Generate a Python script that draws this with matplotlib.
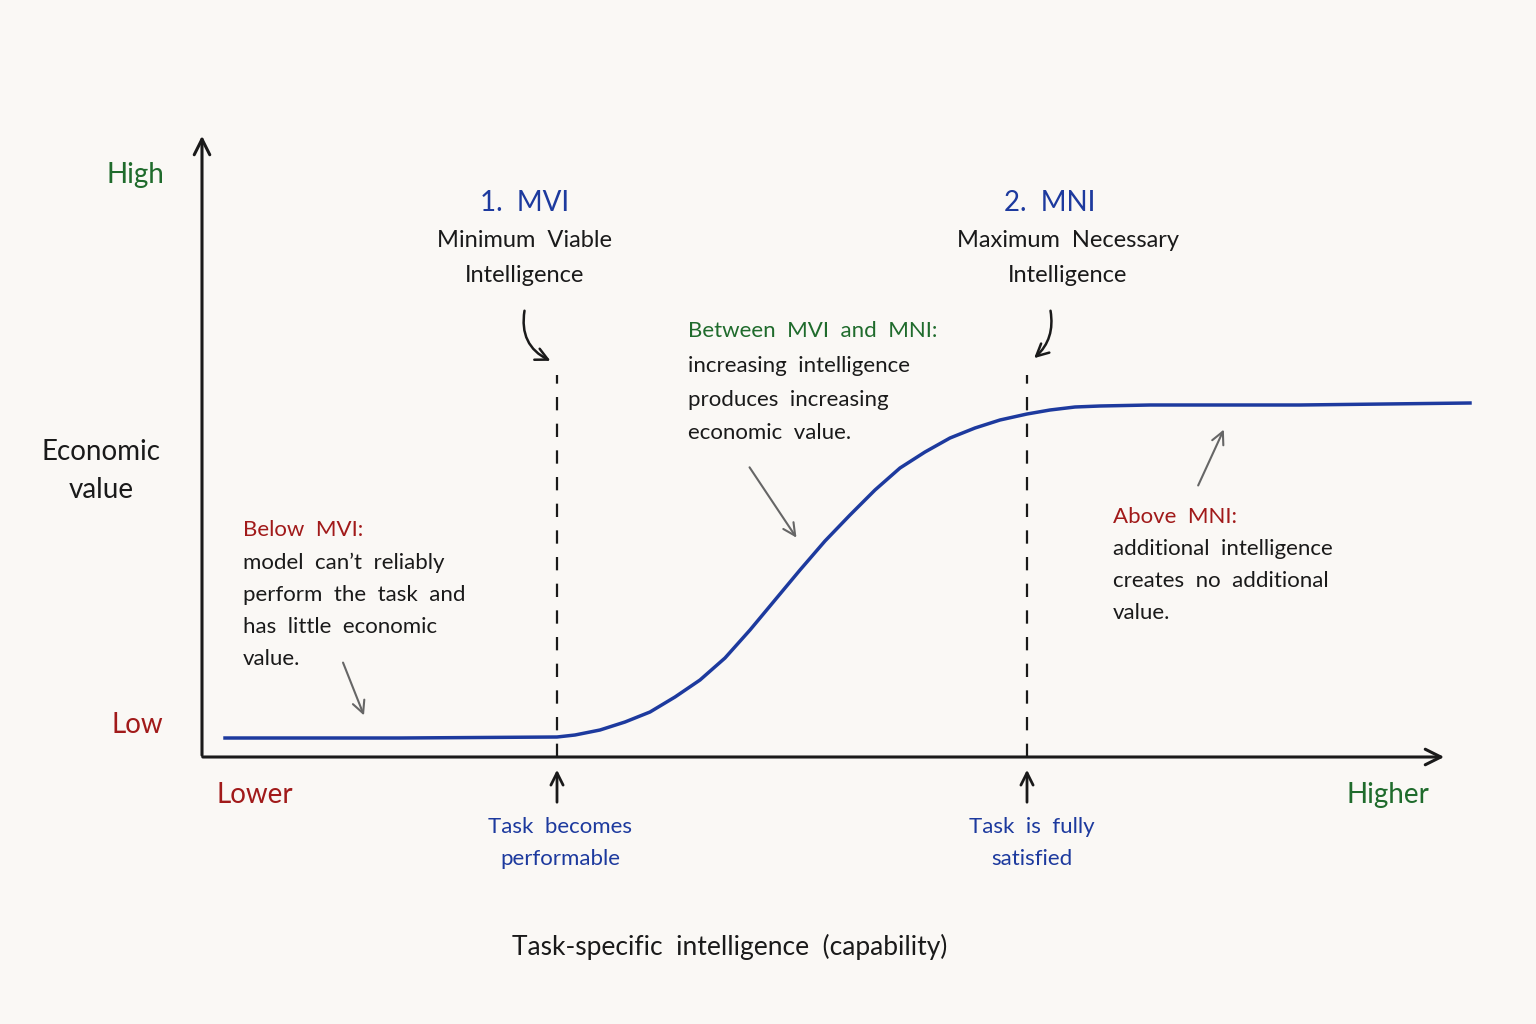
import matplotlib
matplotlib.use("Agg")
import matplotlib.pyplot as plt
import numpy as np

# capability (x) and economic value (y), in chart units
capability = [225, 400, 557, 575, 600, 625, 650, 675, 700, 725, 750, 775, 800, 825, 850, 875, 900, 925, 950, 975, 1000, 1027, 1050, 1075, 1100, 1150, 1200, 1300, 1470]
value = [286, 286, 287, 289, 294, 302, 312, 327, 344, 366, 394, 424, 454, 483, 509, 534, 556, 572, 586, 596, 604, 610, 614, 617, 618, 619, 619, 619, 621]
mvi_x = 557
mni_x = 1027

BLUE = "#1d3a9e"; GREEN = "#1f6b2c"; RED = "#a11a1a"; INK = "#1a1a1a"; BG = "#faf8f5"
plt.rcParams['font.family'] = ['Lato', 'DejaVu Sans']

fig = plt.figure(figsize=(15.36, 10.24), dpi=100, facecolor=BG)
ax = fig.add_axes([202/1536, 267/1024, (1445-202)/1536, (889-267)/1024])
ax.set_xlim(202, 1445); ax.set_ylim(267, 889)
ax.axis('off'); ax.set_facecolor(BG)

def Y(py): return 1024 - py

ax.plot(capability, value, color=BLUE, lw=2.5, clip_on=False, solid_joinstyle='round')
for xv in (mvi_x, mni_x):
    ax.plot([xv, xv], [Y(757), Y(375)], color=INK, lw=1.6, ls=(0, (6, 6)))

ap = dict(arrowstyle='->', color=INK, lw=2.2, mutation_scale=28)
ax.annotate('', xy=(1447, Y(757)), xytext=(200, Y(757)), arrowprops=ap, annotation_clip=False)
ax.annotate('', xy=(202, Y(133)), xytext=(202, Y(758)), arrowprops=ap, annotation_clip=False)

def t(x, py, s, c=INK, fs=16, ha='left', **kw):
    ax.text(x, Y(py), s, color=c, fontsize=fs, ha=ha, va='center', clip_on=False, **kw)

t(135, 175, "High", GREEN, 20, 'center')
t(137, 725, "Low", RED, 20, 'center')
t(101, 471, "Economic\nvalue", INK, 20, 'center', linespacing=1.6)
t(255, 795, "Lower", RED, 20, 'center')
t(1388, 795, "Higher", GREEN, 20, 'center')
t(525, 203, "1.  MVI", BLUE, 20, 'center')
t(525, 258, "Minimum  Viable\nIntelligence", INK, 17, 'center', linespacing=1.8)
t(1050, 203, "2.  MNI", BLUE, 20, 'center')
t(1068, 258, "Maximum  Necessary\nIntelligence", INK, 17, 'center', linespacing=1.8)
t(688, 331, "Between  MVI  and  MNI:", GREEN, 16)
for py, s in zip([366, 400, 433], ["increasing  intelligence", "produces  increasing", "economic  value."]):
    t(688, py, s)
t(243, 530, "Below  MVI:", RED, 16)
for py, s in zip([563, 595, 627, 659], ["model  can’t  reliably", "perform  the  task  and", "has  little  economic", "value."]):
    t(243, py, s)
t(1113, 517, "Above  MNI:", RED, 16)
for py, s in zip([549, 581, 613], ["additional  intelligence", "creates  no  additional", "value."]):
    t(1113, py, s)
t(560, 843, "Task  becomes\nperformable", BLUE, 16, 'center', linespacing=1.8)
t(1032, 843, "Task  is  fully\nsatisfied", BLUE, 16, 'center', linespacing=1.8)
t(730, 947, "Task-specific  intelligence  (capability)", INK, 19, 'center')

def arr(x0, y0, x1, y1, color=INK, rad=0.0, lw=1.8):
    ax.annotate('', xy=(x1, Y(y1)), xytext=(x0, Y(y0)), annotation_clip=False,
                arrowprops=dict(arrowstyle='->', color=color, lw=lw, mutation_scale=22,
                                connectionstyle=f'arc3,rad={rad}'))
arr(525, 308, 553, 362, rad=0.4)
arr(1050, 308, 1032, 360, rad=-0.3)
arr(557, 805, 557, 767, lw=2)
arr(1027, 805, 1027, 767, lw=2)
GRAY = "#666666"
arr(748, 465, 798, 540, GRAY, lw=1.5)
arr(1197, 488, 1225, 427, GRAY, lw=1.5)
arr(342, 660, 365, 718, GRAY, lw=1.5)

fig.savefig("out.png", dpi=100, facecolor=BG)
